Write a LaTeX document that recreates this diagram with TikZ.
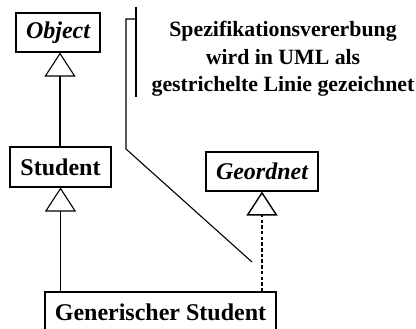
\documentclass[tikz,border=0pt]{standalone}
\usepackage{fontspec}
\setmainfont{Liberation Serif}
\usetikzlibrary{arrows.meta}
\begin{document}
\begin{tikzpicture}[x=1pt,y=-1pt,
  cls/.style={draw,line width=1.1pt,inner sep=0pt,
    font=\fontsize{24}{28}\selectfont\bfseries},
  gen/.style={line width=1.1pt,
    -{Triangle[open,length=24pt,width=31pt,fill=white]}},
  real/.style={gen,dash pattern=on 3.5pt off 2.2pt,line width=1.4pt},
  note/.style={line width=1.1pt},
  notetext/.style={align=center,inner sep=0pt,
    font=\fontsize{21.8}{27.5}\selectfont\bfseries}]
  \useasboundingbox (0,0) rectangle (416,329);

  % classes
  \node[cls,minimum width=84pt,minimum height=39pt] (obj) at (58,32.5) {\itshape Object};
  \node[cls,minimum width=101pt,minimum height=40pt] (stud) at (60.5,167) {Student};
  \node[cls,minimum width=112pt,minimum height=39pt] (geo) at (262,171.5) {\itshape Geordnet};
  \node[cls,minimum width=231pt,minimum height=40pt] (gen) at (160.5,312) {Generischer Student};

  % generalisation and realisation
  \draw[gen] (stud.north -| obj.south) ++(2,0) coordinate (s1) -- (s1 |- obj.south);
  \draw[gen] (gen.north -| stud.south) -- (stud.south);
  \draw[real] (gen.north -| geo.south) -- (geo.south);

  % comment with its bracket and pointer
  \node[notetext] (txt) at (283,59)
    {Spezifikationsvererbung\\wird in UML als\\gestrichelte Linie gezeichnet};
  \coordinate (b1) at (136,7);
  \coordinate (b2) at (136,97);
  \coordinate (p1) at (136,19);
  \coordinate (p2) at (126,19);
  \coordinate (p3) at (126,149);
  \coordinate (p4) at (252,262);
  \draw[note] (b1) -- (b2);
  \draw[note] (p1) -- (p2) -- (p3) -- (p4);
\end{tikzpicture}
\end{document}
